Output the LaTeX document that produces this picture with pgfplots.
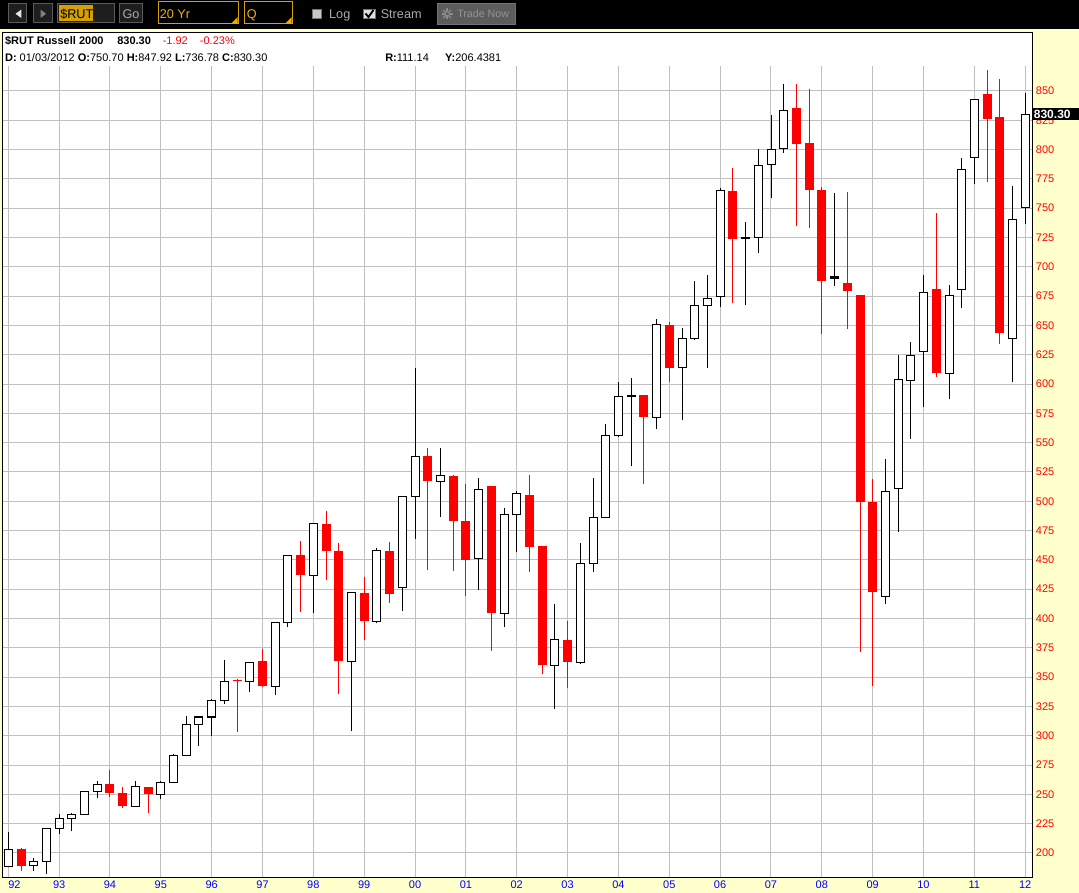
\documentclass[border=0pt]{standalone}
\usepackage{fontspec}
\setmainfont{Liberation Sans}
\usepackage{pgfplots}
\usepackage{pgfplotstable}
\pgfplotsset{compat=1.18}

\definecolor{chartbg}{RGB}{255,255,204}
\definecolor{gridgray}{RGB}{192,192,192}
\definecolor{btnfill}{RGB}{30,30,30}
\definecolor{btnedge}{RGB}{90,90,90}
\definecolor{gold}{RGB}{214,160,0}
\definecolor{goldtxt}{RGB}{240,180,0}
\definecolor{dimtxt}{RGB}{170,170,170}

\newcommand{\tbfont}{\fontsize{9.5}{11}\selectfont}
\newcommand{\hdfont}{\fontsize{8.25}{10}\selectfont}

% $RUT quarterly bars, x = year + (quarter-1)/4
% up quarters (close >= open): hollow
\pgfplotstableread{
x o h l c
1992.00 188.6 218.0 188.0 203.4
1992.50 189.0 196.0 185.0 193.0
1992.75 193.0 221.5 182.5 221.0
1993.00 221.0 233.0 216.0 229.0
1993.25 229.0 234.5 218.5 233.0
1993.50 233.0 253.0 233.0 252.8
1993.75 252.8 261.0 246.6 258.8
1994.50 240.0 261.0 240.0 256.3
1995.00 250.3 261.0 245.7 260.5
1995.25 260.5 284.4 259.4 283.5
1995.50 283.5 317.0 282.7 310.0
1995.75 310.0 316.0 291.0 316.0
1996.00 316.0 331.3 299.4 330.4
1996.25 330.4 364.8 327.5 346.6
1996.75 346.6 363.0 337.0 362.8
1997.25 342.3 397.0 334.7 396.3
1997.50 396.3 454.0 392.6 453.4
1998.00 437.0 481.0 404.3 480.7
1998.75 363.6 422.0 304.0 421.9
1999.25 397.7 460.0 396.0 457.7
1999.75 426.7 504.5 406.0 504.5
2000.00 504.5 613.7 468.0 538.6
2000.50 517.3 545.5 487.0 521.6
2001.25 450.9 520.0 424.0 509.7
2001.75 404.5 494.6 392.6 488.4
2002.00 488.4 509.0 456.5 506.3
2002.75 360.0 412.0 322.5 381.7
2003.25 362.6 464.3 361.5 447.0
2003.50 447.0 519.7 439.8 486.5
2003.75 486.5 566.0 486.5 555.7
2004.00 555.7 602.0 555.0 589.3
2004.25 589.0 605.0 529.7 590.4
2004.75 571.7 655.4 561.4 650.5
2005.25 613.8 647.4 569.0 638.6
2005.50 638.6 687.5 637.5 667.0
2005.75 667.0 693.0 613.4 672.6
2006.00 674.5 767.0 665.7 764.8
2006.50 724.0 738.0 667.7 725.0
2006.75 725.0 800.3 711.6 786.5
2007.00 787.3 829.7 759.0 800.3
2007.25 801.3 856.0 797.5 833.6
2008.25 690.2 763.0 684.0 691.5
2009.25 419.2 536.2 412.6 508.0
2009.50 510.8 625.0 473.5 604.0
2009.75 603.3 636.0 553.0 624.5
2010.00 628.0 693.0 580.0 678.5
2010.50 609.2 684.7 587.0 675.7
2010.75 680.9 792.6 665.2 783.2
2011.00 793.3 843.0 771.0 842.7
2011.75 638.8 768.6 601.6 740.4
2012.00 750.70 847.92 736.78 830.30
}\upbars

% down quarters: filled red
\pgfplotstableread{
x o h l c
1992.25 203.4 204.0 185.0 188.6
1994.00 258.8 271.0 247.7 251.0
1994.25 251.0 256.5 238.0 239.8
1994.75 256.5 256.5 234.0 250.0
1996.50 347.2 348.0 303.0 346.5
1997.00 363.4 373.6 342.0 342.3
1997.75 454.5 466.5 405.4 437.0
1998.25 481.0 492.0 433.0 457.4
1998.50 458.0 464.8 335.2 363.6
1999.00 421.9 435.8 381.3 397.7
1999.50 458.0 465.6 413.6 421.3
2000.25 538.9 545.5 441.0 517.0
2000.75 521.9 522.0 440.3 483.0
2001.00 483.5 515.0 418.8 450.3
2001.50 513.4 513.4 372.7 404.5
2002.25 505.2 522.4 439.8 461.2
2002.50 461.6 461.6 352.3 360.0
2003.00 382.0 398.0 340.8 362.6
2004.50 590.4 590.4 514.4 571.7
2005.00 650.5 653.0 602.0 613.4
2006.25 764.8 784.3 669.2 724.0
2007.50 835.4 856.0 735.2 805.1
2007.75 805.8 851.7 733.4 765.1
2008.00 765.8 768.0 642.3 687.5
2008.50 686.5 764.0 646.8 679.2
2008.75 675.7 675.7 371.2 499.3
2009.00 499.6 519.0 342.3 422.4
2010.25 680.9 746.0 606.4 609.2
2011.25 847.2 868.0 772.0 826.3
2011.50 827.4 860.0 634.0 643.3
}\downbars

\begin{document}
\begin{tikzpicture}[x=0.75pt, y=0.75pt]
\useasboundingbox (0,0) rectangle (1079,893);
\fill[chartbg] (0,0) rectangle (1079,893);

% ---- toolbar ----
\fill[black] (0,864.4) rectangle (1079,893);
\filldraw[fill=btnfill, draw=btnedge, line width=0.75pt] (8.3,870.3) rectangle (26.9,889.6);
\fill[white!90!black] (15.5,879.2) -- (21.3,883.4) -- (21.3,875) -- cycle;
\filldraw[fill=btnfill, draw=btnedge, line width=0.75pt] (33.4,870.3) rectangle (52,889.6);
\fill[gray] (46.1,879.2) -- (40.6,883.4) -- (40.6,875) -- cycle;
\filldraw[fill=btnfill, draw=btnedge, line width=0.75pt] (57.9,870.3) rectangle (114.7,889.6);
\fill[gold] (59.2,872) rectangle (93,888);
\node[anchor=base west, inner sep=0pt, font=\tbfont] at (60,874.5) {\$RUT};
\filldraw[fill=btnfill, draw=btnedge, line width=0.75pt] (119.8,870.3) rectangle (142.2,889.6);
\node[anchor=base, inner sep=0pt, font=\tbfont, text=dimtxt] at (131,874.5) {Go};
\filldraw[fill=black, draw=gold, line width=0.75pt] (158,869) rectangle (238.6,891);
\node[anchor=base west, inner sep=0pt, font=\tbfont, text=goldtxt] at (159.5,874.5) {20 Yr};
\fill[goldtxt] (237.6,875.8) -- (237.6,869.6) -- (231.4,869.6) -- cycle;
\filldraw[fill=black, draw=gold, line width=0.75pt] (244,869) rectangle (292.7,891);
\node[anchor=base west, inner sep=0pt, font=\tbfont, text=goldtxt] at (246.6,874.5) {Q};
\fill[goldtxt] (291.7,875.8) -- (291.7,869.6) -- (285.5,869.6) -- cycle;
\filldraw[fill=white!78!black, draw=white!45!black, line width=0.75pt] (312.3,874) rectangle (321.3,883.4);
\node[anchor=base west, inner sep=0pt, font=\tbfont, text=dimtxt] at (328.9,874.5) {Log};
\filldraw[fill=white!88!black, draw=white!45!black, line width=0.75pt] (363.3,874) rectangle (375,883.4);
\draw[black, line width=1.4pt] (365.5,879.5) -- (368.5,876) -- (373.5,883);
\node[anchor=base west, inner sep=0pt, font=\tbfont, text=dimtxt] at (380.5,874.5) {Stream};
\filldraw[fill=white!36!black, draw=white!45!black, line width=0.75pt] (437.3,868.2) rectangle (515.5,889.6);
\foreach \a in {0,45,...,315}
  \draw[white!55!black, line width=0.9pt] (447,879) ++(\a:1.5) -- ++(\a:4);
\node[anchor=base west, inner sep=0pt, font=\fontsize{8}{10}\selectfont, text=white!58!black] at (457,875) {Trade Now};

% ---- chart panel ----
\fill[white] (2.75,15) rectangle (1032.3,860);
\node[anchor=base west, inner sep=0pt, font=\hdfont\bfseries] at (4.8,848.2) {\$RUT Russell 2000};
\node[anchor=base west, inner sep=0pt, font=\hdfont\bfseries] at (117,848.2) {830.30};
\node[anchor=base west, inner sep=0pt, font=\hdfont, text=red] at (162.5,848.2) {-1.92};
\node[anchor=base west, inner sep=0pt, font=\hdfont, text=red] at (199.7,848.2) {-0.23\%};
\node[anchor=base west, inner sep=0pt, font=\hdfont] at (4.8,831.7)
  {\textbf{D:} 01/03/2012 \textbf{O:}750.70 \textbf{H:}847.92 \textbf{L:}736.78 \textbf{C:}830.30};
\node[anchor=base west, inner sep=0pt, font=\hdfont] at (385,831.7) {\textbf{R:}111.14};
\node[anchor=base west, inner sep=0pt, font=\hdfont] at (444.9,831.7) {\textbf{Y:}206.4381};

\begin{axis}[
  at={(2.0625pt,11.25pt)}, anchor=south west,
  scale only axis, width=772.16pt, height=609pt,
  xmin=1991.891, xmax=2012.138, ymin=178.67, ymax=871.3,
  axis line style={draw=none},
  tick style={draw=none},
  grid=major, grid style={gridgray, line width=0.75pt},
  xtick={1992,...,2012},
  xticklabels={\rlap{92},93,94,95,96,97,98,99,00,01,02,03,04,05,06,07,08,09,10,11,12},
  ytick={200,225,...,850},
  yticklabel pos=right,
  /pgf/number format/assume math mode=true,
  xticklabel style={font=\hdfont, text=blue, inner sep=0pt, yshift=-2.25pt},
  yticklabel style={font=\hdfont, text=red, inner sep=0pt, xshift=2.5pt},
  error bars/error mark=none,
]
% wicks
\addplot[draw=none, mark=none, error bars/.cd, y dir=plus, y explicit,
  error bar style={draw=black, line width=0.75pt}]
  table[x=x, y=l, y error expr=\thisrow{h}-\thisrow{l}] {\upbars};
\addplot[draw=none, mark=none, error bars/.cd, y dir=plus, y explicit,
  error bar style={draw=red, line width=0.75pt}]
  table[x=x, y=l, y error expr=\thisrow{h}-\thisrow{l}] {\downbars};
% red bodies
\addplot[draw=none, mark=none, error bars/.cd, y dir=plus, y explicit,
  error bar style={draw=red, line width=6.75pt}]
  table[x=x, y=c, y error expr=\thisrow{o}-\thisrow{c}] {\downbars};
% hollow bodies: black box, white inside
\addplot[draw=none, mark=none, error bars/.cd, y dir=plus, y explicit,
  error bar style={draw=black, line width=6.75pt}]
  table[x=x, y expr=\thisrow{o}-0.43, y error expr=\thisrow{c}-\thisrow{o}+0.86] {\upbars};
\addplot[draw=none, mark=none, error bars/.cd, y dir=plus, y explicit,
  error bar style={draw=white, line width=5.25pt}]
  table[x=x, y expr=\thisrow{o}+0.43,
    y error expr=((\thisrow{c}-\thisrow{o})>2)*(\thisrow{c}-\thisrow{o}-0.86)] {\upbars};
\coordinate (lastc) at (axis cs:2012.138,830.30);
\end{axis}

\draw[black, line width=0.75pt] (2.75,15) rectangle (1032.3,860);
\node[anchor=west, fill=black, text=white, font=\fontsize{9}{10}\selectfont\bfseries,
  text width=33pt, inner xsep=1pt, inner ysep=0pt, minimum height=9.5pt, align=left]
  at (lastc) {830.30};
\end{tikzpicture}
\end{document}
